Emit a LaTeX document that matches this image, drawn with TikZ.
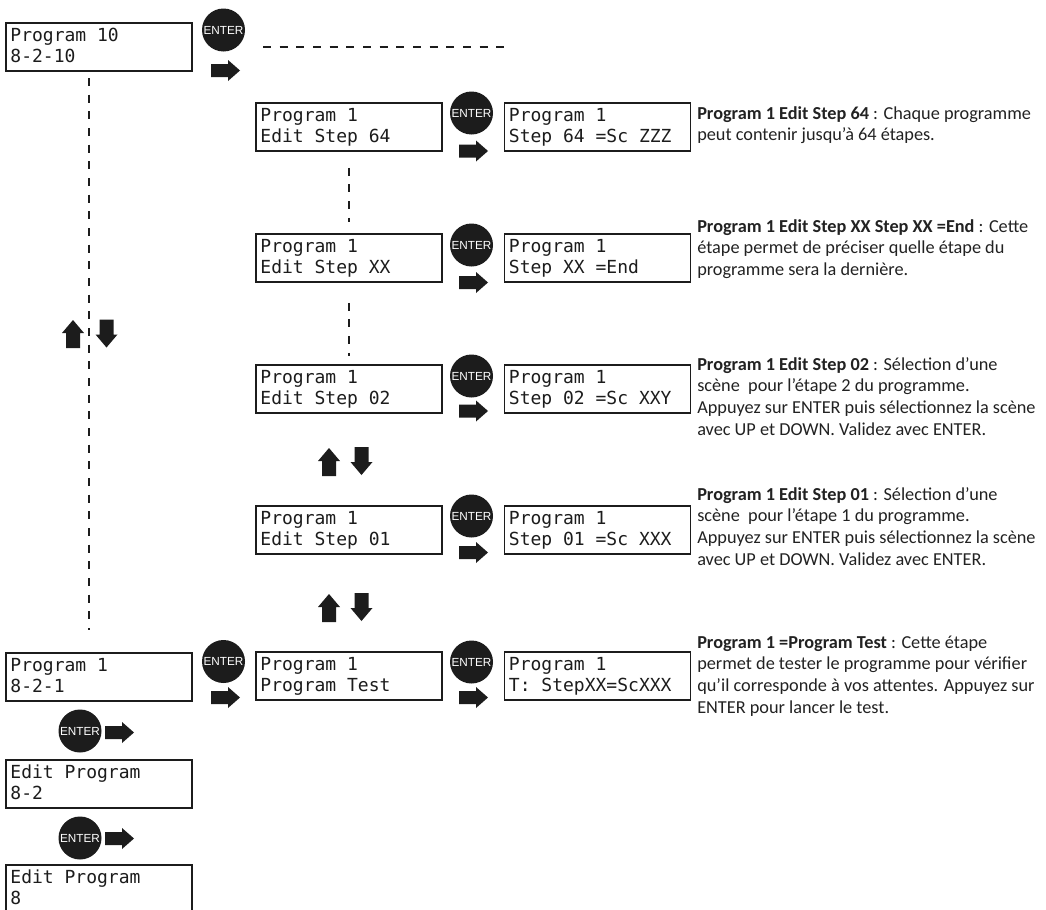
\documentclass[tikz,border=0pt]{standalone}
\usepackage{fontspec}
\usetikzlibrary{calc}
\setmainfont{Carlito}
\newfontfamily\lcdfont{DejaVu Sans Mono}
\newfontfamily\btnfont{Liberation Sans}
\definecolor{ink}{HTML}{1C1C1C}
\definecolor{notecol}{HTML}{222222}
\tikzset{
  lcd/.style={draw=ink, line width=1.2pt, minimum width=139.5pt, minimum height=36pt, inner sep=0pt},
  lcdline/.style={anchor=base west, inner sep=0pt, text=ink, font=\lcdfont\fontsize{13.5}{15.75}\selectfont},
  enterbtn/.style={circle, fill=ink, minimum size=32.25pt, inner sep=0pt, text=white, font=\btnfont\fontsize{8.8}{9}\selectfont},
  dashline/.style={draw=ink, line width=2.2pt, dash pattern=on 6pt off 6.5pt},
  note/.style={anchor=north west, inner sep=0pt, align=left, text=notecol, font=\fontsize{13.7}{16.3}\selectfont},
  rarrow/.pic={\fill[ink] (0,-6.5)--(17,-6.5)--(17,-10.5)--(29,0)--(17,10.5)--(17,6.5)--(0,6.5)--cycle;},
  uarrow/.pic={\fill[ink] (0,0)--(11,13)--(7,13)--(7,28)--(-7,28)--(-7,13)--(-11,13)--cycle;},
  darrow/.pic={\fill[ink] (0,28)--(11,15)--(7,15)--(7,0)--(-7,0)--(-7,15)--(-11,15)--cycle;},
}
\newcommand\lcdpanel[5]{%
  \node[lcd] (#1) at (#2,#3+24) {};
  \node[lcdline] (#1-a) at ([xshift=3.75pt,yshift=-14.7pt]#1.north west) {#4};
  \node[lcdline] (#1-b) at ([xshift=3.75pt,yshift=-30.45pt]#1.north west) {#5};
}
\begin{document}
\begin{tikzpicture}[x=0.75pt,y=-0.75pt]
\clip (0,0) rectangle (1046,910);
\fill[white] (0,0) rectangle (1046,910);

% left column
\lcdpanel{b10}{99}{23}{Program 10}{8-2-10}
\lcdpanel{b1}{99}{653}{Program 1}{8-2-1}
\lcdpanel{be2}{99}{760}{Edit Program}{8-2}
\lcdpanel{be8}{99}{865}{Edit Program}{8}

% middle column
\lcdpanel{m64}{349}{103}{Program 1}{Edit Step 64}
\lcdpanel{mxx}{349}{234}{Program 1}{Edit Step XX}
\lcdpanel{m02}{349}{365}{Program 1}{Edit Step 02}
\lcdpanel{m01}{349}{506}{Program 1}{Edit Step 01}
\lcdpanel{mt}{349}{652}{Program 1}{Program Test}

% right column
\lcdpanel{s64}{597.5}{103}{Program 1}{Step 64 =Sc ZZZ}
\lcdpanel{sxx}{597.5}{234}{Program 1}{Step XX =End}
\lcdpanel{s02}{597.5}{365}{Program 1}{Step 02 =Sc XXY}
\lcdpanel{s01}{597.5}{506}{Program 1}{Step 01 =Sc XXX}
\lcdpanel{st}{597.5}{652}{Program 1}{T: StepXX=ScXXX}

% ENTER buttons
\node[enterbtn] (e10) at (223.5,30) {ENTER};
\node[enterbtn] (e1) at (223.5,661.5) {ENTER};
\node[enterbtn] (ee2) at (80,731) {ENTER};
\node[enterbtn] (ee8) at (80,838) {ENTER};
\node[enterbtn] (e64) at (471.5,113) {ENTER};
\node[enterbtn] (exx) at (471.5,245) {ENTER};
\node[enterbtn] (e02) at (471.5,376) {ENTER};
\node[enterbtn] (e01) at (471.5,516) {ENTER};
\node[enterbtn] (et) at (471.5,662) {ENTER};

% right arrows
\pic (a10) at (211,70.5) {rarrow};
\pic (a1) at (211,697.5) {rarrow};
\pic (ae2) at (105,732.5) {rarrow};
\pic (ae8) at (105,838.5) {rarrow};
\pic (a64) at (459,151) {rarrow};
\pic (axx) at (459,282.5) {rarrow};
\pic (a02) at (459,411) {rarrow};
\pic (a01) at (459,552.5) {rarrow};
\pic (at) at (459,697.5) {rarrow};

% up / down arrows
\pic (ul) at (73,320) {uarrow};
\pic (dl) at (106.5,319.5) {darrow};
\pic (um1) at (329,448) {uarrow};
\pic (dm1) at (361.5,447) {darrow};
\pic (um2) at (329,594) {uarrow};
\pic (dm2) at (361.5,593) {darrow};

% dashed connectors
\coordinate (h1) at (263,47);
\coordinate (h2) at (512,47);
\coordinate (v1) at (89,78);
\coordinate (v2) at (89,630);
\coordinate (c1) at ($(m64.south)+(0,16)$);
\coordinate (c2) at ($(mxx.north)+(0,-11)$);
\coordinate (c3) at ($(mxx.south)+(0,20)$);
\coordinate (c4) at ($(m02.north)+(0,-8)$);
\draw[dashline] (h1) -- (h2);
\draw[dashline] (v1) -- (v2);
\draw[dashline] (c1) -- (c2);
\draw[dashline] (c3) -- (c4);

% notes
\node[note] (n64) at (697,103.7) {\strut\textbf{Program 1 Edit Step 64} : Chaque programme\\peut contenir jusqu'à 64 étapes.};
\node[note] (nxx) at (697,216.7) {\strut\textbf{Program 1 Edit Step XX Step XX =End} : Cette\\étape permet de préciser quelle étape du\\programme sera la dernière.};
\node[note] (n02) at (697,354.7) {\strut\textbf{Program 1 Edit Step 02} : Sélection d'une\\scène~ pour l'étape 2 du programme.\\Appuyez sur ENTER puis sélectionnez la scène\\avec UP et DOWN. Validez avec ENTER.};
\node[note] (n01) at (697,484.7) {\strut\textbf{Program 1 Edit Step 01} : Sélection d'une\\scène~ pour l'étape 1 du programme.\\Appuyez sur ENTER puis sélectionnez la scène\\avec UP et DOWN. Validez avec ENTER.};
\node[note] (nt) at (697,632.7) {\strut\textbf{Program 1 =Program Test} : Cette étape\\permet de tester le programme pour vérifier\\qu'il corresponde à vos attentes. Appuyez sur\\ENTER pour lancer le test.};
\end{tikzpicture}
\end{document}
